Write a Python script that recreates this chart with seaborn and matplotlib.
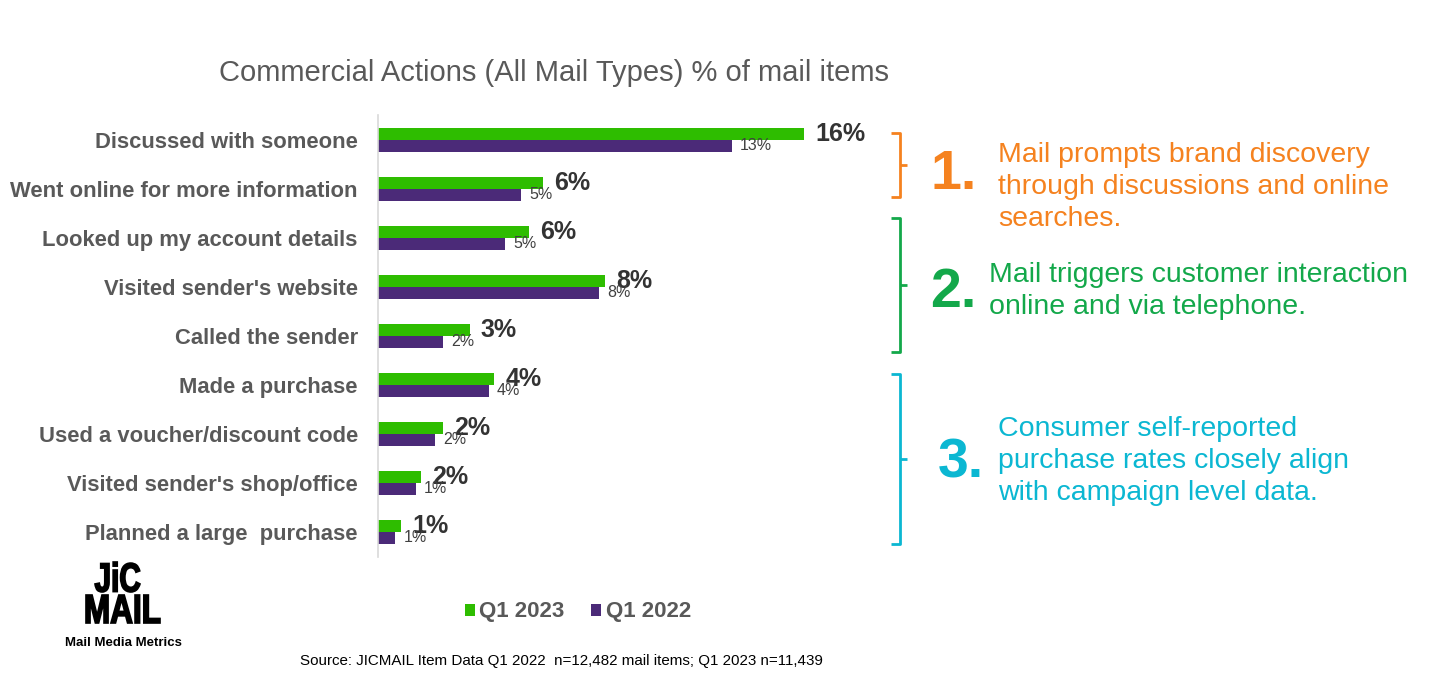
import pandas as pd
import seaborn as sns
import matplotlib.pyplot as plt
from matplotlib.textpath import TextPath
from matplotlib.patches import PathPatch
from matplotlib.font_manager import FontProperties
from matplotlib.transforms import Affine2D, IdentityTransform

# Donnees (valeurs en %)
categories = [
    "Discussed with someone",
    "Went online for more information",
    "Looked up my account details",
    "Visited sender's website",
    "Called the sender",
    "Made a purchase",
    "Used a voucher/discount code",
    "Visited sender's shop/office",
    "Planned a large  purchase",
]
q1_2023 = [15.8, 6.1, 5.6, 8.4, 3.4, 4.3, 2.4, 1.6, 0.85]
q1_2022 = [13.1, 5.3, 4.7, 8.2, 2.4, 4.1, 2.1, 1.4, 0.63]
series = ["Q1 2023", "Q1 2022"]

GREEN = "#2EBD00"
PURPLE = "#4B2A78"
GREY = "#595959"
DARK = "#404040"

W, H = 1440, 681

sns.set_theme(style="white")
plt.rcParams["font.family"] = ["Liberation Sans", "DejaVu Sans"]

df = pd.DataFrame({
    "action": categories * 2,
    "valeur": q1_2023 + q1_2022,
    "periode": [series[0]] * len(categories) + [series[1]] * len(categories),
})

fig = plt.figure(figsize=(W / 100, H / 100), dpi=100)
ax = fig.add_axes([378 / W, 0.1828, 502 / W, 0.6476])

sns.barplot(data=df, x="valeur", y="action", hue="periode", order=categories,
            hue_order=series, palette=[GREEN, PURPLE], width=0.47,
            linewidth=0, saturation=1, ax=ax)

ax.set_xlim(0, 18.6)
ax.set_xlabel("")
ax.set_ylabel("")
ax.set_xticks([])
for s in ["top", "right", "bottom"]:
    ax.spines[s].set_visible(False)
ax.spines["left"].set_color("#D9D9D9")
ax.spines["left"].set_linewidth(1.2)
ax.tick_params(axis="y", length=0, pad=14.5)
for lab in ax.get_yticklabels():
    lab.set_fontsize(15.8)
    lab.set_fontweight("bold")
    lab.set_color(GREY)

# Etiquettes des barres
ax.bar_label(ax.containers[0], labels=[f"{v:.0f}%" for v in q1_2023],
             padding=8, fontsize=18, fontweight="bold", color="#333333")
ax.bar_label(ax.containers[1], labels=[f"{v:.0f}%" for v in q1_2022],
             padding=6, fontsize=11.5, color=DARK)

# Legende
handles, labels = ax.get_legend_handles_labels()
ax.get_legend().remove()
leg = fig.legend(handles, labels, loc="center", bbox_to_anchor=(578 / W, 1 - 612 / H),
                 ncol=2, frameon=False, handlelength=0.45, handleheight=0.45,
                 handletextpad=0.2, columnspacing=1.2,
                 prop={"size": 16, "weight": "bold"})
for t in leg.get_texts():
    t.set_color(GREY)

# Titre
fig.text(554 / W, 1 - 73 / H, "Commercial Actions (All Mail Types) % of mail items",
         ha="center", va="center", fontsize=21, color=GREY)

# Source
fig.text(300 / W, 1 - 661 / H,
         "Source: JICMAIL Item Data Q1 2022  n=12,482 mail items; Q1 2023 n=11,439",
         ha="left", va="center", fontsize=10.9, color="black")

# Logo : texte etire dans une boite (police condensee)
def logo_texte(txt, x0, x1, y_haut, y_bas):
    path = TextPath((0, 0), txt, size=1, prop=FontProperties(family="Liberation Sans", weight="bold"))
    ext = path.get_extents()
    sx = (x1 - x0) / ext.width
    sy = (y_bas - y_haut) / ext.height
    tr = Affine2D().translate(-ext.x0, -ext.y0).scale(sx, sy).translate(x0, H - y_bas)
    fig.add_artist(PathPatch(tr.transform_path(path), facecolor="black", edgecolor="black",
                             linewidth=1.2, transform=IdentityTransform()))

logo_texte("JiC", 95, 140, 562, 592)
logo_texte("MAIL", 86, 160, 595, 623)
fig.text(123 / W, 1 - 643 / H, "Mail Media Metrics", ha="center", va="center",
         fontsize=9.5, fontweight="bold", color="black")

# Accolades et commentaires
def accolade(y_haut, y_bas, couleur):
    x0, x1, x2 = 891 / W, 900 / W, 907 / W
    yh, yb = 1 - y_haut / H, 1 - y_bas / H
    ym = (yh + yb) / 2
    kw = dict(color=couleur, lw=2, transform=fig.transFigure, solid_capstyle="butt")
    fig.add_artist(plt.Line2D([x0, x1, x1, x0], [yh, yh, yb, yb], **kw))
    fig.add_artist(plt.Line2D([x1, x2], [ym, ym], **kw))

ORANGE = "#F5821F"
VERT = "#13A84A"
CYAN = "#0BB7D2"

accolade(133, 197, ORANGE)
accolade(218, 352, VERT)
accolade(374, 544, CYAN)

fig.text(930 / W, 1 - 175 / H, "1.", ha="left", va="center", fontsize=40,
         fontweight="bold", color=ORANGE)
fig.text(930 / W, 1 - 293 / H, "2.", ha="left", va="center", fontsize=40,
         fontweight="bold", color=VERT)
fig.text(938 / W, 1 - 464 / H, "3.", ha="left", va="center", fontsize=40,
         fontweight="bold", color=CYAN)

fig.text(998 / W, 1 - 187 / H,
         "Mail prompts brand discovery\nthrough discussions and online\nsearches.",
         ha="left", va="center", fontsize=20.5, color=ORANGE, linespacing=1.3)
fig.text(989 / W, 1 - 291 / H,
         "Mail triggers customer interaction\nonline and via telephone.",
         ha="left", va="center", fontsize=20.5, color=VERT, linespacing=1.3)
fig.text(998 / W, 1 - 461 / H,
         "Consumer self-reported\npurchase rates closely align\nwith campaign level data.",
         ha="left", va="center", fontsize=20.5, color=CYAN, linespacing=1.3)

fig.savefig("out.png", dpi=100, facecolor="white")
